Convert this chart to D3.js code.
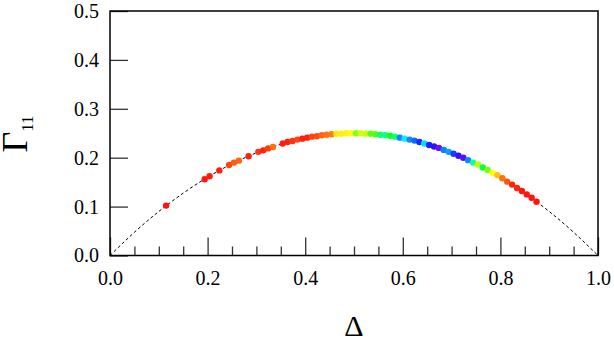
<!DOCTYPE html>
<html>
<head>
<meta charset="utf-8">
<script src="https://cdn.jsdelivr.net/npm/d3@7"></script>
<style>
  body { margin: 0; background: #fff; }
</style>
</head>
<body>
<div id="chart"></div>
<script>
const SERIF = "'Liberation Serif', 'DejaVu Serif', serif";

// Points (Delta, Gamma_11) and their colour value (hue, degrees)
const deltaVals = [0.115, 0.194, 0.204, 0.224, 0.244, 0.254, 0.264, 0.284, 0.304, 0.314, 0.324, 0.334,
  0.354, 0.364, 0.374, 0.384, 0.394, 0.404, 0.414, 0.424, 0.434, 0.444, 0.454, 0.464, 0.474, 0.484,
  0.494, 0.504, 0.514, 0.524, 0.534, 0.544, 0.554, 0.564, 0.574, 0.584, 0.594, 0.604, 0.614, 0.624,
  0.634, 0.644, 0.654, 0.664, 0.674, 0.684, 0.694, 0.704, 0.714, 0.724, 0.734, 0.744, 0.754, 0.764,
  0.774, 0.784, 0.794, 0.804, 0.814, 0.824, 0.834, 0.844, 0.854, 0.864, 0.874];
const gammaVals = [0.102, 0.156, 0.162, 0.174, 0.185, 0.190, 0.194, 0.203, 0.212, 0.215, 0.219, 0.222,
  0.229, 0.232, 0.234, 0.237, 0.239, 0.241, 0.243, 0.244, 0.246, 0.247, 0.248, 0.249, 0.249, 0.250,
  0.250, 0.250, 0.250, 0.249, 0.249, 0.248, 0.247, 0.246, 0.245, 0.243, 0.241, 0.239, 0.237, 0.235,
  0.232, 0.229, 0.226, 0.223, 0.220, 0.216, 0.212, 0.208, 0.204, 0.200, 0.195, 0.190, 0.186, 0.180,
  0.175, 0.169, 0.164, 0.158, 0.151, 0.145, 0.138, 0.132, 0.125, 0.118, 0.110];
const hueVals = [2, 3, 4, 5, 15, 20, 22, 5, 10, 6, 12, 25,
  4, 5, 10, 14, 5, 5, 14, 16, 22, 25, 28, 55, 57, 58,
  62, 90, 72, 75, 100, 105, 145, 150, 125, 145, 210, 185, 210, 218,
  232, 190, 235, 250, 262, 212, 205, 228, 250, 258, 210, 155, 80, 130,
  95, 62, 45, 25, 18, 6, 6, 3, 3, 2, 2];

// reference curve Delta(1 - Delta), sampled
const curveX = [0, 0.05, 0.1, 0.15, 0.2, 0.25, 0.3, 0.35, 0.4, 0.45, 0.5, 0.55, 0.6, 0.65, 0.7, 0.75, 0.8, 0.85, 0.9, 0.95, 1];
const curveY = [0, 0.0475, 0.09, 0.1275, 0.16, 0.1875, 0.21, 0.2275, 0.24, 0.2475, 0.25, 0.2475, 0.24, 0.2275, 0.21, 0.1875, 0.16, 0.1275, 0.09, 0.0475, 0];

const xTicks = [0, 0.2, 0.4, 0.6, 0.8, 1.0];
const xMinor = [0.05, 0.1, 0.15, 0.25, 0.3, 0.35, 0.45, 0.5, 0.55, 0.65, 0.7, 0.75, 0.85, 0.9, 0.95];
const yTicks = [0, 0.1, 0.2, 0.3, 0.4, 0.5];

const margin = { top: 11, right: 16, bottom: 83.5, left: 110 };
const width = 614 - margin.left - margin.right;
const height = 339 - margin.top - margin.bottom;

const svgRoot = d3.select("#chart").append("svg")
    .attr("width", 614)
    .attr("height", 339)
    .style("font-family", SERIF);
const svg = svgRoot.append("g")
    .attr("transform", `translate(${margin.left},${margin.top})`);

const x = d3.scaleLinear().domain([0, 1]).range([0, width]);
const y = d3.scaleLinear().domain([0, 0.5]).range([height, 0]);
const hue = d3.scaleLinear().domain([0, 270]).range([-1, 270]);

// dashed curve
const curveData = curveX.map((d, i) => ({ x: d, y: curveY[i] }));
svg.append("path")
    .datum(curveData)
    .attr("fill", "none")
    .attr("stroke", "#000")
    .attr("stroke-width", 1)
    .attr("stroke-dasharray", "3,2.5")
    .attr("d", d3.line().x(d => x(d.x)).y(d => y(d.y)).curve(d3.curveNatural));

// axes
const xAxis = svg.append("g")
    .attr("transform", `translate(0,${height})`)
    .call(d3.axisBottom(x).tickValues(xTicks).tickFormat(d3.format(".1f"))
        .tickSize(-18).tickPadding(15));
const xMinorAxis = svg.append("g")
    .attr("transform", `translate(0,${height})`)
    .call(d3.axisBottom(x).tickValues(xMinor).tickFormat("").tickSize(-9));
const yAxis = svg.append("g")
    .call(d3.axisLeft(y).tickValues(yTicks).tickFormat(d3.format(".1f"))
        .tickSize(-18).tickPadding(11));

[xAxis, xMinorAxis, yAxis].forEach(g => {
    g.attr("font-family", null).attr("font-size", null);
    g.select(".domain").remove();
    g.selectAll(".tick line").attr("stroke", "#333").attr("stroke-width", 1.3);
    g.selectAll(".tick text").attr("fill", "#000").attr("font-size", 20);
});

// frame
svg.append("rect")
    .attr("x", 0).attr("y", 0)
    .attr("width", width).attr("height", height)
    .attr("fill", "none")
    .attr("stroke", "#000")
    .attr("stroke-width", 1.5);

// points
svg.selectAll(".pt")
    .data(deltaVals.map((d, i) => ({ x: d, y: gammaVals[i], h: hueVals[i] })))
    .enter()
    .append("circle")
    .attr("class", "pt")
    .attr("cx", d => x(d.x))
    .attr("cy", d => y(d.y))
    .attr("r", 3.2)
    .attr("fill", d => d3.hsl(hue(d.h), 1, 0.53).toString());

// axis labels
const yLab = svgRoot.append("text")
    .attr("transform", "translate(27,134) rotate(-90)")
    .attr("text-anchor", "middle")
    .attr("font-size", 36);
yLab.append("tspan").text("Γ");
yLab.append("tspan").attr("dy", 6).attr("font-size", 17).text("11");

svgRoot.append("text")
    .attr("x", margin.left + width / 2)
    .attr("y", 336)
    .attr("text-anchor", "middle")
    .attr("font-size", 30)
    .text("Δ");
</script>
</body>
</html>
